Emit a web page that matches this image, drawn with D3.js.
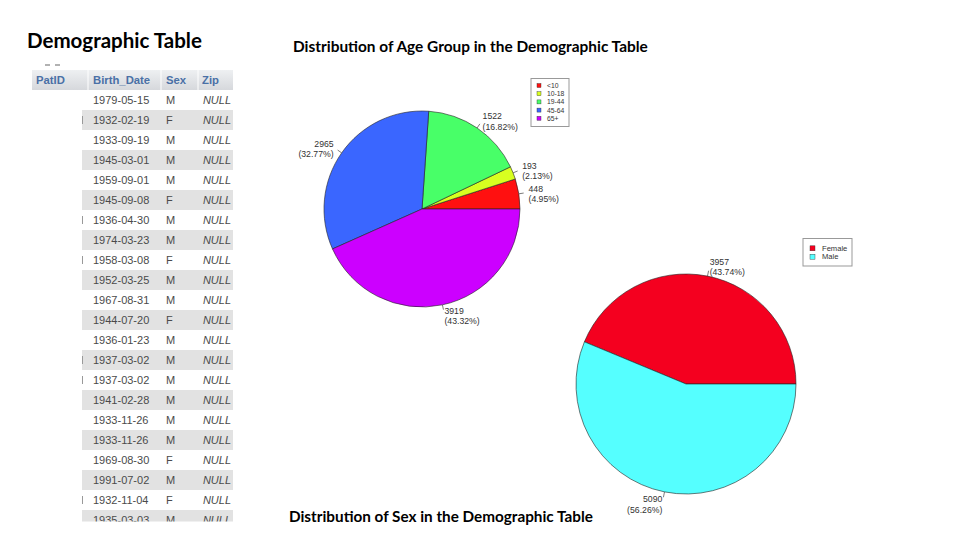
<!DOCTYPE html>
<html><head><meta charset="utf-8">
<script src="https://cdn.jsdelivr.net/npm/d3@7/dist/d3.min.js"></script>
<style>html,body{margin:0;padding:0;background:#fff;}svg{display:block;}</style>
</head><body>
<script>
// ---------- data ----------
const tableHeaders = ["PatID", "Birth_Date", "Sex", "Zip"];
const birthDates = ["1979-05-15","1932-02-19","1933-09-19","1945-03-01","1959-09-01","1945-09-08","1936-04-30","1974-03-23","1958-03-08","1952-03-25","1967-08-31","1944-07-20","1936-01-23","1937-03-02","1937-03-02","1941-02-28","1933-11-26","1933-11-26","1969-08-30","1991-07-02","1932-11-04","1935-03-03"];
const sexValues = ["M","F","M","M","M","F","M","M","F","M","M","F","M","M","M","M","M","M","F","M","F","M"];
const zipValues = birthDates.map(() => "NULL");
const tickRows = [1, 6, 8, 13, 14, 20];

const ageGroups = ["<10", "10-18", "19-44", "45-64", "65+"];
const ageCounts = [448, 193, 1522, 2965, 3919];
const ageColors = ["#ff1010", "#d8ff20", "#48ff68", "#3a66ff", "#cc00ff"];

const sexGroups = ["Female", "Male"];
const sexCounts = [3957, 5090];
const sexColors = ["#f4001f", "#55ffff"];

// ---------- setup ----------
const W = 969, H = 543;
const svg = d3.select("body").append("svg").attr("width", W).attr("height", H);

function fit(sel, target) {
  const fs = parseFloat(sel.attr("font-size"));
  const len = sel.node().getComputedTextLength();
  sel.attr("font-size", (fs * target / len).toFixed(2));
  return sel;
}

// ---------- titles ----------
fit(svg.append("text").attr("x", 27).attr("y", 48).attr("font-family", "Lato").attr("font-weight", "bold")
  .attr("font-size", 19).attr("fill", "#000").text("Demographic Table"), 175);
fit(svg.append("text").attr("x", 293).attr("y", 52).attr("font-family", "Lato").attr("font-weight", "bold")
  .attr("font-size", 13).attr("fill", "#000").text("Distribution of Age Group in the Demographic Table"), 355);
fit(svg.append("text").attr("x", 289).attr("y", 522).attr("font-family", "Lato").attr("font-weight", "bold")
  .attr("font-size", 13).attr("fill", "#000").text("Distribution of Sex in the Demographic Table"), 304);

// ---------- table ----------
const defs = svg.append("defs");
defs.append("clipPath").attr("id", "tclip").append("rect").attr("x", 0).attr("y", 60).attr("width", 260).attr("height", 461.5);
const hg = defs.append("linearGradient").attr("id", "hgrad").attr("x1", 0).attr("y1", 0).attr("x2", 0).attr("y2", 1);
hg.append("stop").attr("offset", "0%").attr("stop-color", "#eef0f2");
hg.append("stop").attr("offset", "100%").attr("stop-color", "#d6d8dc");

const tbl = svg.append("g").attr("clip-path", "url(#tclip)");
const colX = [36, 93, 166, 202];
const rowY = d3.scaleLinear().domain([0, 1]).range([100, 120]);

// dashes above header
tbl.append("line").attr("x1", 45).attr("x2", 50).attr("y1", 65).attr("y2", 65).attr("stroke", "#666").attr("stroke-width", 1.2);
tbl.append("line").attr("x1", 55).attr("x2", 60).attr("y1", 65).attr("y2", 65).attr("stroke", "#666").attr("stroke-width", 1.2);

tbl.append("rect").attr("x", 32).attr("y", 70).attr("width", 201).attr("height", 20).attr("fill", "url(#hgrad)");
[88, 161, 198].forEach(x => tbl.append("line").attr("x1", x).attr("x2", x).attr("y1", 70).attr("y2", 90).attr("stroke", "#fff").attr("stroke-width", 1));
tbl.selectAll("text.hdr").data(tableHeaders).join("text").attr("class", "hdr")
  .attr("x", (d, i) => colX[i]).attr("y", 84)
  .attr("font-family", "Liberation Sans, Arial").attr("font-weight", "bold").attr("font-size", 11.3)
  .attr("fill", "#4a70a6").text(d => d);

const rows = tbl.selectAll("g.row").data(birthDates).join("g").attr("class", "row")
  .attr("transform", (d, i) => `translate(0,${rowY(i)})`);
rows.filter((d, i) => i % 2 === 1).append("rect").attr("x", 82).attr("y", -10).attr("width", 151).attr("height", 20).attr("fill", "#e2e2e2");
rows.filter((d, i) => tickRows.includes(i)).append("line").attr("x1", 82.5).attr("x2", 82.5).attr("y1", -4).attr("y2", 4).attr("stroke", "#999").attr("stroke-width", 1);
rows.append("text").attr("x", colX[1]).attr("y", 4).attr("font-family", "Liberation Sans, Arial").attr("font-size", 11).attr("fill", "#4a4a4a").text(d => d);
rows.append("text").attr("x", colX[2]).attr("y", 4).attr("font-family", "Liberation Sans, Arial").attr("font-size", 11).attr("fill", "#4a4a4a").text((d, i) => sexValues[i]);
rows.append("text").attr("x", 231).attr("y", 4).attr("text-anchor", "end").attr("font-family", "Liberation Sans, Arial").attr("font-style", "italic").attr("font-size", 11).attr("fill", "#4a4a4a").text((d, i) => zipValues[i]);

// ---------- pies ----------
function drawPie(cx, cy, r, labels, counts, colors, legend) {
  const total = d3.sum(counts);
  const pie = d3.pie().sort(null).value(d => d).startAngle(Math.PI / 2).endAngle(Math.PI / 2 - 2 * Math.PI);
  const arcs = pie(counts);
  const arc = d3.arc().innerRadius(0).outerRadius(r);
  const g = svg.append("g").attr("transform", `translate(${cx},${cy})`);
  g.selectAll("path").data(arcs).join("path").attr("d", arc)
    .attr("fill", (d, i) => colors[i]).attr("stroke", "#222").attr("stroke-width", 0.6);
  arcs.forEach((a, i) => {
    const m = (a.startAngle + a.endAngle) / 2;
    const sx = Math.sin(m), sy = -Math.cos(m);
    g.append("line").attr("x1", sx * r).attr("y1", sy * r).attr("x2", sx * r * 1.05).attr("y2", sy * r * 1.05)
      .attr("stroke", "#444").attr("stroke-width", 0.7);
    const lx = sx * r * 1.1, ly = sy * r * 1.1;
    const t = g.append("text").attr("font-family", "Liberation Sans, Arial").attr("font-size", 8.7).attr("fill", "#333")
      .attr("text-anchor", sx >= 0 ? "start" : "end");
    t.append("tspan").attr("x", lx).attr("y", ly - 0.5).text(counts[i]);
    t.append("tspan").attr("x", lx).attr("y", ly + 10).text("(" + (counts[i] / total * 100).toFixed(2) + "%)");
  });
  // legend
  const L = svg.append("g");
  L.append("rect").attr("x", legend.x).attr("y", legend.y).attr("width", legend.w).attr("height", legend.h)
    .attr("fill", "#fff").attr("stroke", "#999").attr("stroke-width", 1);
  labels.forEach((lab, i) => {
    const yy = legend.y + legend.top + i * legend.step;
    L.append("rect").attr("x", legend.x + legend.sq).attr("y", yy - legend.s / 2).attr("width", legend.s).attr("height", legend.s)
      .attr("fill", colors[i]).attr("stroke", "#333").attr("stroke-width", 0.4);
    L.append("text").attr("x", legend.x + legend.tx).attr("y", yy + legend.fs * 0.36)
      .attr("font-family", "Liberation Sans, Arial").attr("font-size", legend.fs).attr("fill", "#333").text(lab);
  });
}

drawPie(422, 209, 98, ageGroups, ageCounts, ageColors,
  { x: 531, y: 78.5, w: 38, h: 48, top: 7, step: 8.2, sq: 6, s: 4, tx: 16, fs: 6.8 });
drawPie(686, 384, 110, sexGroups, sexCounts, sexColors,
  { x: 803, y: 238.5, w: 49, h: 27.5, top: 9.8, step: 8.4, sq: 7, s: 5, tx: 19, fs: 7.6 });
</script>
</body></html>
